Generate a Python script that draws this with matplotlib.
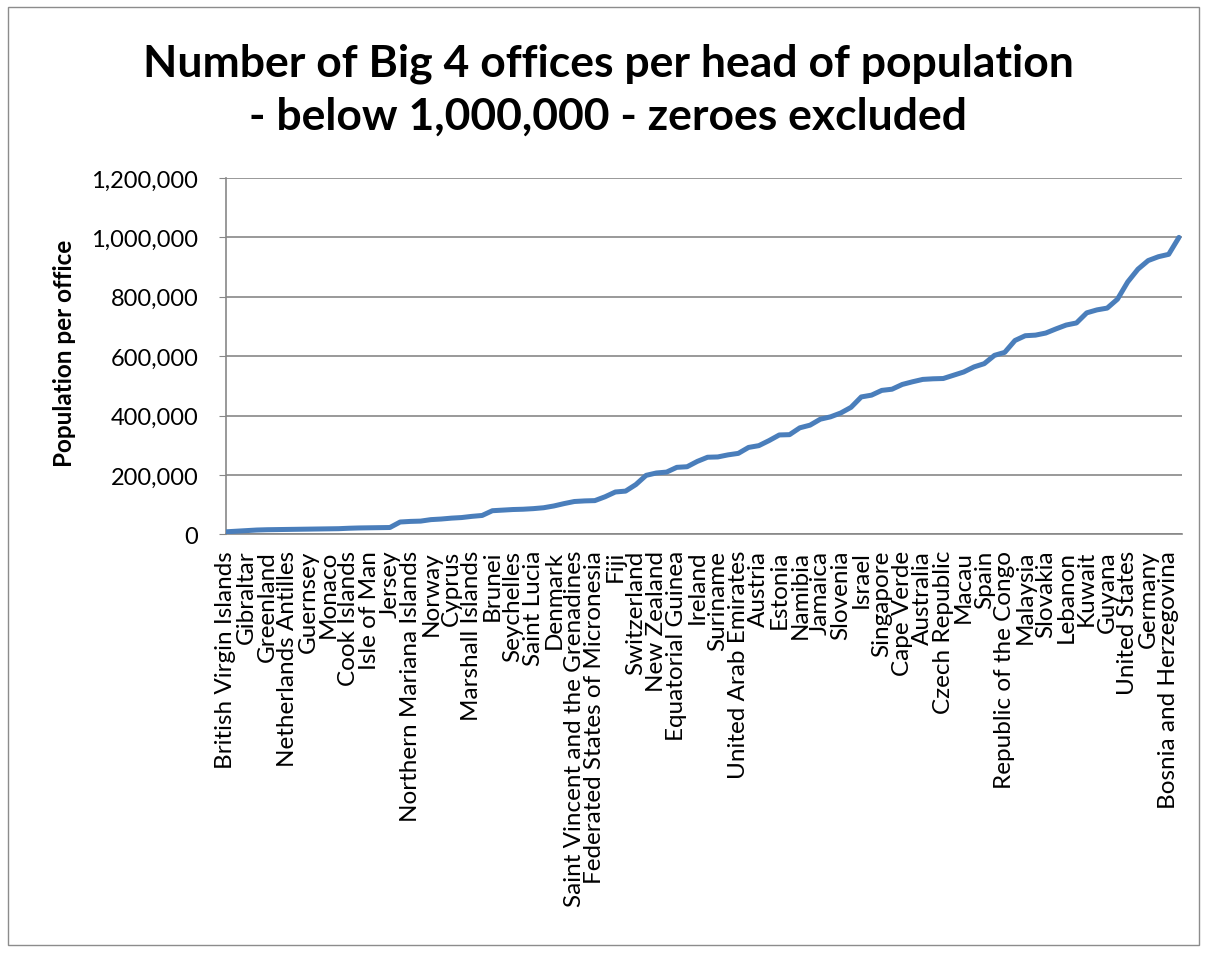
import matplotlib
matplotlib.use('Agg')
import matplotlib.pyplot as plt
from matplotlib.ticker import FuncFormatter, MultipleLocator
from matplotlib.patches import Rectangle

# every other country gets a visible category label
countries = [
    'British Virgin Islands', 'Gibraltar', 'Greenland', 'Netherlands Antilles',
    'Guernsey', 'Monaco', 'Cook Islands', 'Isle of Man', 'Jersey',
    'Northern Mariana Islands', 'Norway', 'Cyprus', 'Marshall Islands', 'Brunei',
    'Seychelles', 'Saint Lucia', 'Denmark', 'Saint Vincent and the Grenadines',
    'Federated States of Micronesia', 'Fiji', 'Switzerland', 'New Zealand',
    'Equatorial Guinea', 'Ireland', 'Suriname', 'United Arab Emirates', 'Austria',
    'Estonia', 'Namibia', 'Jamaica', 'Slovenia', 'Israel', 'Singapore',
    'Cape Verde', 'Australia', 'Czech Republic', 'Macau', 'Spain',
    'Republic of the Congo', 'Malaysia', 'Slovakia', 'Lebanon', 'Kuwait',
    'Guyana', 'United States', 'Germany', 'Bosnia and Herzegovina',
]

# population per Big 4 office, one value per country (sorted)
pop_per_office = [
    9000, 11000, 13000, 15000, 16000, 16500, 17000, 17500, 18000, 18500,
    19000, 19500, 21000, 22000, 22500, 23000, 23500, 42000, 44000, 45000,
    50000, 52000, 55000, 57000, 61000, 64000, 80000, 82000, 84000, 85000,
    87000, 90000, 96000, 104000, 111000, 113000, 114000, 127000, 143000, 146000,
    168000, 199000, 207000, 210000, 226000, 228000, 246000, 260000, 261000, 268000,
    273000, 293000, 299000, 316000, 335000, 336000, 359000, 368000, 388000, 396000,
    409000, 428000, 463000, 469000, 485000, 489000, 505000, 514000, 522000, 524000,
    525000, 536000, 547000, 564000, 575000, 603000, 613000, 653000, 669000, 671000,
    678000, 692000, 705000, 712000, 746000, 756000, 762000, 792000, 850000, 893000,
    922000, 935000, 943000, 1000000,
]

plt.rcParams['font.family'] = ['Lato', 'DejaVu Sans']

fig = plt.figure(figsize=(12.07, 9.54), dpi=100)

# outer chart border
fig.patches.append(Rectangle((8 / 1207, 8 / 954), 1191 / 1207, 938 / 954,
                             transform=fig.transFigure, fill=False,
                             edgecolor='#8c8c8c', lw=1.0))

ax = fig.add_axes([0.1872, 0.4387, 0.7921, 0.3737])

x = list(range(len(pop_per_office)))
ax.plot(x, pop_per_office, color='#4A7EBB', lw=3.6,
        solid_joinstyle='round', solid_capstyle='round', zorder=3)

ax.set_xlim(0, len(pop_per_office) - 0.7)
ax.set_ylim(0, 1200000)
ax.yaxis.set_major_locator(MultipleLocator(200000))
ax.yaxis.set_major_formatter(FuncFormatter(lambda v, p: f'{int(v):,}'))
ax.grid(axis='y', color='#878787', lw=1.2)
ax.set_axisbelow(True)

ax.set_xticks(x[::2])
ax.set_xticklabels(countries, rotation=90, fontsize=17.5)
ax.tick_params(axis='x', length=0, pad=11)
ax.tick_params(axis='y', length=5, color='#878787', labelsize=17, pad=15)

for s in ['top', 'right']:
    ax.spines[s].set_visible(False)
for s in ['left', 'bottom']:
    ax.spines[s].set_color('#878787')
    ax.spines[s].set_linewidth(1.2)

ax.set_ylabel('Population per office', fontsize=17.5, fontweight='bold')
ax.yaxis.set_label_coords(-0.157, 0.51)

fig.text(0.504, 1 - 44 / 954,
         'Number of Big 4 offices per head of population\n- below 1,000,000 - zeroes excluded',
         ha='center', va='top', fontsize=32, fontweight='bold', linespacing=1.38)

fig.savefig('out.png', dpi=100)
